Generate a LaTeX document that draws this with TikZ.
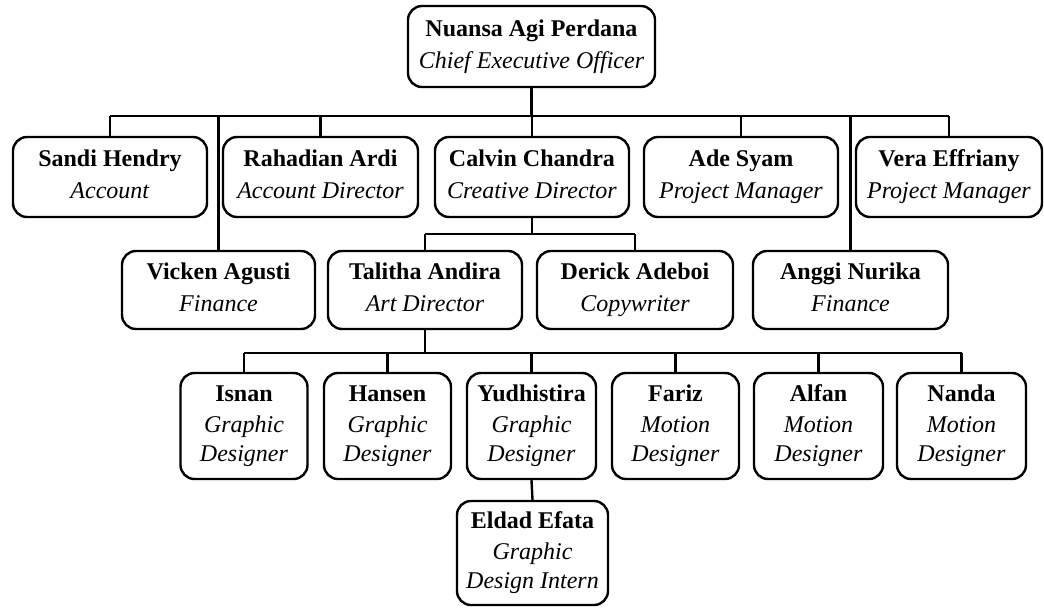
\documentclass[tikz,border=0pt]{standalone}
\usepackage{fontspec}
\setmainfont{Liberation Serif}
\usepackage{tikz}
\usetikzlibrary{calc, positioning}

\tikzset{
    orang/.style={draw, rounded corners=14pt, line width=2.4pt, align=center,
        inner sep=0pt, font=\fontsize{24}{29}\selectfont},
    garis/.style={line width=2.4pt}
}

\begin{document}
\begin{tikzpicture}[x=1pt, y=-1pt]
    \useasboundingbox (0,0) rectangle (1044,608);

    % Pimpinan
    \node[orang, minimum width=247pt, minimum height=81pt] (ceo) at (531.5,46.5)
        {\strut\textbf{Nuansa Agi Perdana}\\[3pt]\textit{Chief Executive Officer}\strut};

    % Baris kedua
    \node[orang, minimum width=194pt, minimum height=80pt] (sandi) at (110,177)
        {\strut\textbf{Sandi Hendry}\\[3pt]\textit{Account}\strut};
    \node[orang, minimum width=195pt, minimum height=80pt] (rahadian) at (320.5,177)
        {\strut\textbf{Rahadian Ardi}\\[3pt]\textit{Account Director}\strut};
    \node[orang, minimum width=194pt, minimum height=80pt] (calvin) at (532,177)
        {\strut\textbf{Calvin Chandra}\\[3pt]\textit{Creative Director}\strut};
    \node[orang, minimum width=194pt, minimum height=80pt] (ade) at (741,177)
        {\strut\textbf{Ade Syam}\\[3pt]\textit{Project Manager}\strut};
    \node[orang, minimum width=186pt, minimum height=80pt] (vera) at (949,177)
        {\strut\textbf{Vera Effriany}\\[3pt]\textit{Project Manager}\strut};

    % Baris ketiga
    \node[orang, minimum width=193pt, minimum height=78pt] (vicken) at (218.5,290)
        {\strut\textbf{Vicken Agusti}\\[3pt]\textit{Finance}\strut};
    \node[orang, minimum width=194pt, minimum height=78pt] (talitha) at (425,290)
        {\strut\textbf{Talitha Andira}\\[3pt]\textit{Art Director}\strut};
    \node[orang, minimum width=196pt, minimum height=78pt] (derick) at (635,290)
        {\strut\textbf{Derick Adeboi}\\[3pt]\textit{Copywriter}\strut};
    \node[orang, minimum width=195pt, minimum height=78pt] (anggi) at (850.5,290)
        {\strut\textbf{Anggi Nurika}\\[3pt]\textit{Finance}\strut};

    % Baris keempat (desainer)
    \node[orang, minimum width=127pt, minimum height=106pt] (isnan) at (244,426)
        {\strut\textbf{Isnan}\\[2pt]\textit{Graphic}\\\textit{Designer}\strut};
    \node[orang, minimum width=127pt, minimum height=106pt] (hansen) at (387.5,426)
        {\strut\textbf{Hansen}\\[2pt]\textit{Graphic}\\\textit{Designer}\strut};
    \node[orang, minimum width=129pt, minimum height=106pt] (yudhistira) at (531.5,426)
        {\strut\textbf{Yudhistira}\\[2pt]\textit{Graphic}\\\textit{Designer}\strut};
    \node[orang, minimum width=127pt, minimum height=106pt] (fariz) at (675.5,426)
        {\strut\textbf{Fariz}\\[2pt]\textit{Motion}\\\textit{Designer}\strut};
    \node[orang, minimum width=129pt, minimum height=106pt] (alfan) at (818.5,426)
        {\strut\textbf{Alfan}\\[2pt]\textit{Motion}\\\textit{Designer}\strut};
    \node[orang, minimum width=129pt, minimum height=106pt] (nanda) at (961.5,426)
        {\strut\textbf{Nanda}\\[2pt]\textit{Motion}\\\textit{Designer}\strut};

    % Magang
    \node[orang, minimum width=151pt, minimum height=104pt] (eldad) at (532.5,553)
        {\strut\textbf{Eldad Efata}\\[2pt]\textit{Graphic}\\\textit{Design Intern}\strut};

    % Garis dari pimpinan
    \coordinate (bus1) at ($(ceo.south)+(0,28)$);
    \draw[garis] (ceo.south) -- (bus1);
    \draw[garis] (bus1 -| sandi.north) -- (bus1 -| vera.north);
    \foreach \n in {sandi, rahadian, calvin, ade, vera, vicken, anggi}
        \draw[garis] (bus1 -| \n.north) -- (\n.north);

    % Garis dari Creative Director
    \coordinate (bus2) at ($(calvin.south)+(0,16)$);
    \draw[garis] (calvin.south) -- (bus2);
    \draw[garis] (bus2 -| talitha.north) -- (bus2 -| derick.north);
    \draw[garis] (bus2 -| talitha.north) -- (talitha.north);
    \draw[garis] (bus2 -| derick.north) -- (derick.north);

    % Garis dari Art Director
    \coordinate (bus3) at ($(talitha.south)+(0,23)$);
    \draw[garis] (talitha.south) -- (bus3);
    \draw[garis] (bus3 -| isnan.north) -- (bus3 -| nanda.north);
    \foreach \n in {isnan, hansen, yudhistira, fariz, alfan, nanda}
        \draw[garis] (bus3 -| \n.north) -- (\n.north);

    % Garis ke magang
    \draw[garis] (yudhistira.south) -- (eldad.north);
\end{tikzpicture}
\end{document}
